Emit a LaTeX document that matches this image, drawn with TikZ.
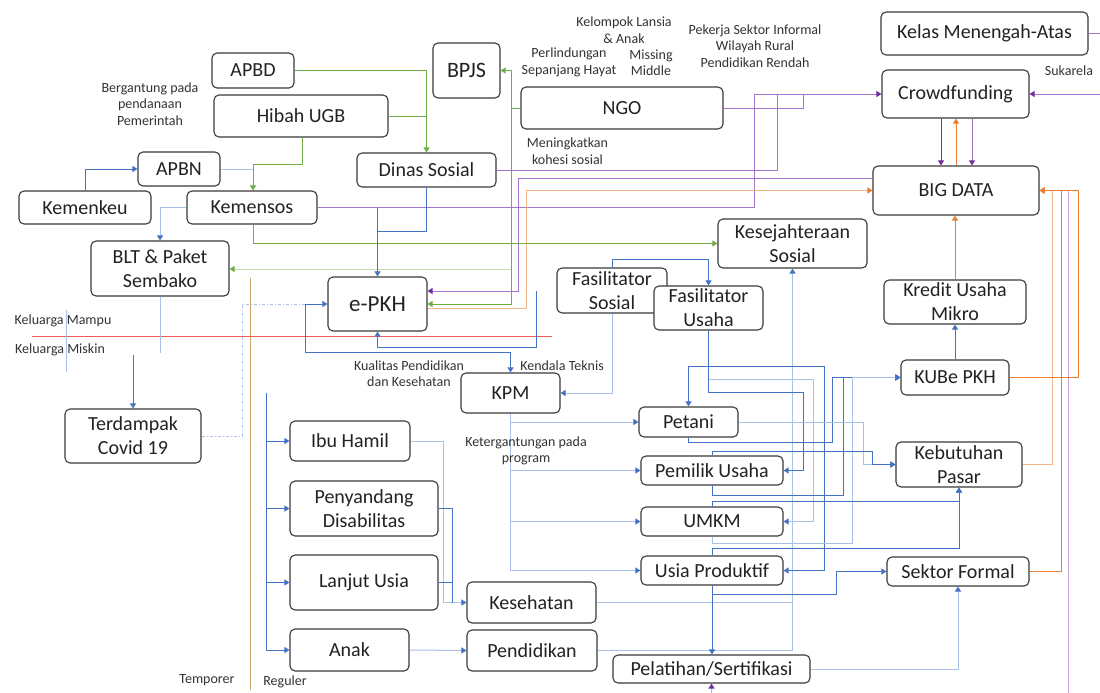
\documentclass[tikz,border=0pt]{standalone}
\usepackage{fontspec}
\setmainfont{Carlito}
\usetikzlibrary{arrows.meta}
\definecolor{cb}{HTML}{4472C4}
\definecolor{cbl}{HTML}{A9C0E8}
\definecolor{cg}{HTML}{70AD47}
\definecolor{cgl}{HTML}{C5DDB0}
\definecolor{cp}{HTML}{7030A0}
\definecolor{cpm}{HTML}{A474CE}
\definecolor{cpl}{HTML}{C3A3E0}
\definecolor{co}{HTML}{ED7D31}
\definecolor{col}{HTML}{F4B48A}
\definecolor{ctan}{HTML}{C9A86A}
\definecolor{cred}{HTML}{F25A5A}
\definecolor{cbox}{HTML}{3A3A3A}
\definecolor{ctxt}{HTML}{222222}
\pgfdeclarelayer{bg}
\pgfsetlayers{bg,main}
\begin{document}
\begin{tikzpicture}[x=1pt,y=-1pt,
  box/.style={draw=cbox, line width=1.1pt, rounded corners=5pt, fill=white, inner sep=1pt, align=center, text=ctxt, font=\fontsize{20}{24}\selectfont},
  lab/.style={font=\fontsize{14}{16.5}\selectfont, align=center, text=black!80, inner sep=0pt},
  tipb/.style={-{Triangle[width=6pt,length=5pt,color=cb]}},
  tipg/.style={-{Triangle[width=6pt,length=5pt,color=cg]}},
  tipp/.style={-{Triangle[width=6pt,length=5pt,color=cp]}},
  tipo/.style={-{Triangle[width=6pt,length=5pt,color=co]}},
  lb/.style={draw=cb, line width=1pt},
  lbl/.style={draw=cbl, line width=1pt},
  lg/.style={draw=cg, line width=1pt},
  lgl/.style={draw=cgl, line width=1pt},
  lpm/.style={draw=cpm, line width=1pt},
  lpl/.style={draw=cpl, line width=1pt},
  lo/.style={draw=co, line width=1pt},
  lol/.style={draw=col, line width=1pt}]
\useasboundingbox (0,0) rectangle (1100,693);

% ---------- nodes ----------
\node[box,minimum width=82pt,minimum height=35pt] (apbd) at (253,70.5) {APBD};
\node[box,minimum width=174pt,minimum height=42pt] (hibah) at (301,116) {Hibah UGB};
\node[box,minimum width=82pt,minimum height=34pt] (apbn) at (179,169) {APBN};
\node[box,minimum width=132pt,minimum height=33pt] (kemenkeu) at (85,207.5) {Kemenkeu};
\node[box,minimum width=130pt,minimum height=33pt] (kemensos) at (252,207.5) {Kemensos};
\node[box,minimum width=67pt,minimum height=55pt,font=\fontsize{22}{26}\selectfont] (bpjs) at (466.5,70.5) {BPJS};
\node[box,minimum width=202pt,minimum height=42pt] (ngo) at (622,108) {NGO};
\node[box,minimum width=139pt,minimum height=34pt] (ds) at (426.5,170) {Dinas Sosial};
\node[box,minimum width=207pt,minimum height=43pt] (kelas) at (984.5,33.5) {Kelas Menengah-Atas};
\node[box,minimum width=147pt,minimum height=48pt] (crowd) at (955.5,94) {Crowdfunding};
\node[box,minimum width=166pt,minimum height=49pt] (big) at (956,190.5) {BIG DATA};
\node[box,minimum width=149pt,minimum height=49pt] (ks) at (792.5,243.5) {Kesejahteraan\\Sosial};
\node[box,minimum width=138pt,minimum height=55pt] (blt) at (160,268.5) {BLT \& Paket\\Sembako};
\node[box,minimum width=99pt,minimum height=54pt,font=\fontsize{23}{27}\selectfont] (epkh) at (377.5,304) {e-PKH};
\node[box,minimum width=136pt,minimum height=54pt] (terd) at (133,436) {Terdampak\\Covid 19};
\node[box,minimum width=110pt,minimum height=45pt] (fass) at (612,290.5) {Fasilitator\\Sosial};
\node[box,minimum width=109pt,minimum height=44pt] (fasu) at (708.5,308) {Fasilitator\\Usaha};
\node[box,minimum width=99pt,minimum height=40pt] (kpm) at (510.5,393) {KPM};
\node[box,minimum width=142pt,minimum height=44pt] (kredit) at (955,302) {Kredit Usaha\\Mikro};
\node[box,minimum width=108pt,minimum height=35pt] (kube) at (955,377.5) {KUBe PKH};
\node[box,minimum width=126pt,minimum height=45pt] (keb) at (959,464.5) {Kebutuhan\\Pasar};
\node[box,minimum width=99pt,minimum height=30pt] (pet) at (688.5,422) {Petani};
\node[box,minimum width=142pt,minimum height=29pt] (pem) at (712,470.5) {Pemilik Usaha};
\node[box,minimum width=142pt,minimum height=29pt] (umkm) at (712,521.5) {UMKM};
\node[box,minimum width=142pt,minimum height=29pt] (usia) at (712,570.5) {Usia Produktif};
\node[box,minimum width=142pt,minimum height=29pt] (sf) at (958,571.5) {Sektor Formal};
\node[box,minimum width=197pt,minimum height=28pt] (pel) at (711.5,669) {Pelatihan/Sertifikasi};
\node[box,minimum width=129pt,minimum height=41pt] (kes) at (531.5,602.5) {Kesehatan};
\node[box,minimum width=130pt,minimum height=41pt] (pend) at (532,650.5) {Pendidikan};
\node[box,minimum width=120pt,minimum height=40pt] (ibu) at (350,441) {Ibu Hamil};
\node[box,minimum width=148pt,minimum height=55pt] (peny) at (364,508.5) {Penyandang\\Disabilitas};
\node[box,minimum width=148pt,minimum height=55pt] (lanjut) at (364,582.5) {Lanjut Usia};
\node[box,minimum width=119pt,minimum height=42pt] (anak) at (349.5,650) {Anak};

% ---------- labels ----------
\node[lab] (t1) at (150,104) {Bergantung pada\\pendanaan\\Pemerintah};
\node[lab] (t2) at (624,30) {Kelompok Lansia\\\& Anak};
\node[lab] (t3) at (569,62.5) {Perlindungan\\Sepanjang Hayat};
\node[lab] (t4) at (651,62.5) {Missing\\Middle};
\node[lab] (t5) at (755,46) {Pekerja Sektor Informal\\Wilayah Rural\\Pendidikan Rendah};
\node[lab] (t6) at (567.5,151) {Meningkatkan\\kohesi sosial};
\node[lab] (t7) at (1069,71) {Sukarela};
\node[lab] (t8) at (63,321) {Keluarga Mampu};
\node[lab] (t9) at (60,350) {Keluarga Miskin};
\node[lab] (t10) at (409,373.5) {Kualitas Pendidikan\\dan Kesehatan};
\node[lab] (t11) at (562,366) {Kendala Teknis};
\node[lab] (t12) at (526,451) {Ketergantungan pada\\program};
\node[lab] (t13) at (207,680) {Temporer};
\node[lab] (t14) at (285,682) {Reguler};

% ---------- connectors ----------
\begin{pgfonlayer}{bg}
\fill[white] (0,0) rectangle (1100,693);
% dividers
\draw[ctan, line width=1pt] (250,278) -- (250,690);
\draw[cred, line width=0.8pt] (32,336) -- (552,336);
\draw[lbl] (66,310) -- (66,372);

% purple
\draw[lpl,tipp] (big.east) -| (1068,705) -| (pel.south);
\draw[lpm,tipp] (kemensos.east) -| (754,94) -- (crowd.west);
\draw[lpm] (ds.east) -| (777,94);
\draw[lpm] (ngo.east) -| (803,94);
\draw[lpm,tipp] (big.west |- 0,178) -| (518,291) -- (epkh.east |- 0,291);
\draw[lpm,tipp] (kelas.east) -- (1106,33.5) -- (1106,94) -- (crowd.east);
\draw[draw=cp,line width=1pt,tipp] (941,0 |- crowd.south) -- (941,0 |- big.north);
\draw[draw=cp!70,line width=1pt,tipp] (972,0 |- crowd.south) -- (972,0 |- big.north);

% orange
\draw[lol,tipo] (epkh.east |- 0,308) -| (526,190.5) -- (big.west);
\draw[lo,tipo] (big.north) -- (big.north |- crowd.south);
\draw[lo,tipo] (kredit.north) -- (kredit.north |- big.south);
\draw[lol,tipo] (keb.east) -| (1052,190.5) -- (big.east);
\draw[lo,tipo] (sf.east) -| (1061,190.5) -- (big.east);
\draw[lo,tipo] (kube.east) -| (1078,190.5) -- (big.east);

% green
\draw[lg,tipg] (apbd.east) -| (ds.north);
\draw[lg] (hibah.east) -- (hibah.east -| ds.north);
\draw[lg,tipg] (302,0 |- hibah.south) -- (302,164) -| (253,0 |- kemensos.north);
\draw[lg,tipg] (253,0 |- kemensos.south) |- (ks.west);
\draw[lg] (ngo.west) -- (511,0 |- ngo.west) coordinate (gv);
\draw[lg,tipg] (gv) |- (bpjs.east);
\draw[lg,tipg] (gv) |- (epkh.east);
\draw[lgl,tipg] (gv |- 0,269) -- (blt.east |- 0,269);

% blue, upper left
\draw[lb,tipb] (kemenkeu.north) |- (apbn.west);
\draw[lbl] (apbn.east) -- (apbn.east -| 253,0);
\draw[lbl,tipb] (kemensos.west) -| (blt.north);
\draw[lb,tipb] (ds.south) -- ++(0,44) -| (epkh.north);
\draw[lb] (377.5,207.5) -- (377.5,231);
\draw[lbl] (blt.south) -- ++(0,56);
\coordinate (tz) at (133,355);
\draw[lb,tipb] (tz) -- (terd.north);
\draw[lbl,dash dot] (terd.east) -- (242,436) |- (305,304);
\draw[lb,tipb] (305,352) -- (305,304) -- (epkh.west);
\draw[lb,tipb] (305,352) -| (kpm.north);
\coordinate (bv) at (536,291);
\draw[lb,tipb] (bv) -- (536,347) -| (epkh.south);
\draw[lb,tipb] (fass.north) -- ++(0,-8) -| (fasu.north);
\draw[lbl,tipb] (fass.south) |- (kpm.east);

% blue, left tree
\draw[lb] (266,393) -- (266,650);
\foreach \n in {ibu,peny,lanjut,anak} {\draw[lb,tipb] (266,0 |- \n.west) -- (\n.west);}
\draw[lbl,tipb] (ibu.east) -| (443,602.5) -- (kes.west);
\draw[lb] (peny.east) -| (452,602.5);
\draw[lb] (lanjut.east) -- (lanjut.east -| 452,0);
\draw[lbl,tipb] (anak.east) -- (pend.west);
\draw[lbl,tipb] (pend.east) -| (ks.south);
\draw[lbl] (kes.east) -- (kes.east -| ks.south);

% blue, KPM tree
\foreach \n in {pet,pem,umkm,usia} {\draw[lbl,tipb] (kpm.south) |- (\n.west);}

% blue, Fasilitator Usaha tree
\draw[lb] (fasu.south) -- ++(0,62);
\draw[lb,tipb] (fasu.south |- 0,392) -| (803,0 |- pem.east) -- (pem.east);
\draw[lbl,tipb] (fasu.south |- 0,379) -| (813,0 |- umkm.east) -- (umkm.east);
\draw[lb,tipb] (fasu.south |- 0,366) -| (824,0 |- usia.east) -- (usia.east);
\draw[lb,tipb] (fasu.south |- 0,366) -| (pet.north);

% blue, right part
\draw[lb,tipb] (pet.south) -- ++(0,5) -| (832,0 |- kube.west) -- (kube.west);
\draw[lb,tipb] (pem.south) -- ++(0,10) -| (843,0 |- kube.west) -- (kube.west);
\draw[lbl,tipb] (umkm.south) -- ++(0,7) -| (852,0 |- kube.west) -- (kube.west);
\draw[lbl,tipb] (pet.east) -| (863,0 |- keb.west) -- (keb.west);
\draw[lb,tipb] (pem.north) -- ++(0,-4) -| (872,0 |- keb.west) -- (keb.west);
\draw[lb,tipb] (umkm.north) -- ++(0,-5) -| (keb.south);
\draw[lb,tipb] (usia.north) -- ++(0,-7) -| (keb.south);
\draw[lb,tipb] (usia.south) -- (usia.south |- pel.north);
\draw[lb,tipb] (usia.south) -- ++(0,9) -| (836,571.5) -- (sf.west);
\draw[lbl,tipb] (pel.east) -| (sf.south);
\draw[lb,tipb] (kube.north) -- (kube.north |- kredit.south);
\end{pgfonlayer}
\end{tikzpicture}
\end{document}
